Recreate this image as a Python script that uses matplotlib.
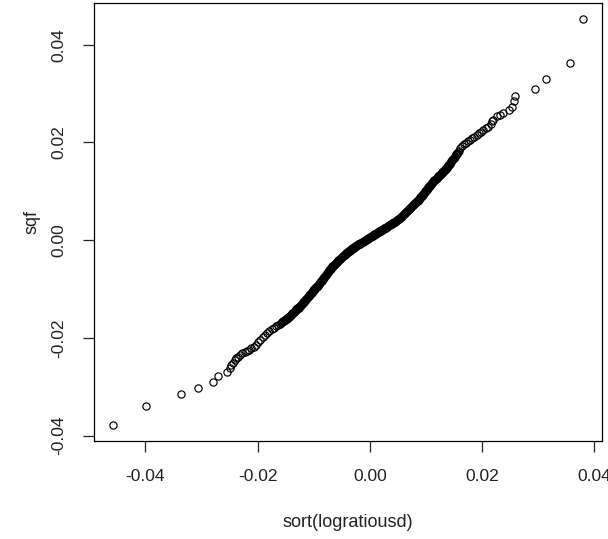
import matplotlib
matplotlib.use("Agg")
import matplotlib.pyplot as plt

plt.rcParams['font.family'] = ['Liberation Sans', 'DejaVu Sans']

# sorted sample (x) against quantiles (y)
lower_x = [-0.0458, -0.0399, -0.0337, -0.0306, -0.0280, -0.0270, -0.0254,
           -0.0250, -0.0247, -0.0244, -0.0241, -0.0238, -0.0235, -0.0231,
           -0.0227, -0.0223, -0.0219, -0.0215, -0.0211, -0.0207, -0.0203,
           -0.0199, -0.0195, -0.0191, -0.0187, -0.0183, -0.0179, -0.0175,
           -0.0171, -0.0167, -0.0164, -0.0161]
lower_y = [-0.0378, -0.0340, -0.0316, -0.0302, -0.0290, -0.0278, -0.0270,
           -0.0262, -0.0256, -0.0251, -0.0246, -0.0242, -0.0239, -0.0235,
           -0.0232, -0.0229, -0.0227, -0.0224, -0.0221, -0.0218, -0.0214,
           -0.0209, -0.0204, -0.0199, -0.0195, -0.0190, -0.0186, -0.0182,
           -0.0179, -0.0176, -0.0173, -0.0171]

mid_x = [-0.0158, -0.0156, -0.0154, -0.0152, -0.0150, -0.0148, -0.0146, -0.0144,
         -0.0142, -0.0140, -0.0138, -0.0136, -0.0134, -0.0132, -0.0130, -0.0128,
         -0.0126, -0.0124, -0.0122, -0.0120, -0.0118, -0.0116, -0.0114, -0.0112,
         -0.0110, -0.0108, -0.0106, -0.0104, -0.0102, -0.0100, -0.0098, -0.0096,
         -0.0094, -0.0092, -0.0090, -0.0088, -0.0086, -0.0084, -0.0082, -0.0080,
         -0.0078, -0.0076, -0.0074, -0.0072, -0.0070, -0.0068, -0.0066, -0.0064,
         -0.0062, -0.0060, -0.0058, -0.0056, -0.0054, -0.0052, -0.0050, -0.0048,
         -0.0046, -0.0044, -0.0042, -0.0040, -0.0038, -0.0036, -0.0034, -0.0032,
         -0.0030, -0.0028, -0.0026, -0.0024, -0.0022, -0.0020, -0.0018, -0.0016,
         -0.0014, -0.0012, -0.0010, -0.0008, -0.0006, -0.0004, -0.0002, 0.0000,
         0.0002, 0.0004, 0.0006, 0.0008, 0.0010, 0.0012, 0.0014, 0.0016,
         0.0018, 0.0020, 0.0022, 0.0024, 0.0026, 0.0028, 0.0030, 0.0032,
         0.0034, 0.0036, 0.0038, 0.0040, 0.0042, 0.0044, 0.0046, 0.0048,
         0.0050, 0.0052, 0.0054, 0.0056, 0.0058, 0.0060, 0.0062, 0.0064,
         0.0066, 0.0068, 0.0070, 0.0072, 0.0074, 0.0076, 0.0078, 0.0080,
         0.0082, 0.0084, 0.0086, 0.0088, 0.0090, 0.0092, 0.0094, 0.0096,
         0.0098, 0.0100, 0.0102, 0.0104, 0.0106, 0.0108, 0.0110, 0.0112,
         0.0114, 0.0116, 0.0118, 0.0120, 0.0122, 0.0124, 0.0126, 0.0128,
         0.0130, 0.0132, 0.0134, 0.0136, 0.0138, 0.0140, 0.0142, 0.0144,
         0.0146, 0.0148, 0.0150, 0.0152, 0.0154, 0.0156, 0.0158]
mid_y = [-0.0169, -0.0167, -0.0166, -0.0164, -0.0162, -0.0161, -0.0159, -0.0157,
         -0.0155, -0.0153, -0.0150, -0.0148, -0.0146, -0.0144, -0.0141, -0.0139,
         -0.0137, -0.0134, -0.0132, -0.0129, -0.0126, -0.0124, -0.0121, -0.0119,
         -0.0116, -0.0113, -0.0111, -0.0108, -0.0105, -0.0102, -0.0100, -0.0097,
         -0.0094, -0.0092, -0.0089, -0.0086, -0.0083, -0.0080, -0.0077, -0.0074,
         -0.0071, -0.0068, -0.0065, -0.0062, -0.0059, -0.0056, -0.0053, -0.0051,
         -0.0048, -0.0046, -0.0044, -0.0041, -0.0039, -0.0037, -0.0035, -0.0033,
         -0.0031, -0.0029, -0.0027, -0.0025, -0.0023, -0.0022, -0.0020, -0.0018,
         -0.0017, -0.0015, -0.0013, -0.0012, -0.0010, -0.0009, -0.0007, -0.0006,
         -0.0004, -0.0003, -0.0001, 0.0000, 0.0002, 0.0003, 0.0004, 0.0006,
         0.0007, 0.0009, 0.0010, 0.0012, 0.0013, 0.0014, 0.0016, 0.0017,
         0.0019, 0.0020, 0.0021, 0.0023, 0.0024, 0.0025, 0.0027, 0.0028,
         0.0030, 0.0031, 0.0033, 0.0034, 0.0036, 0.0038, 0.0039, 0.0041,
         0.0043, 0.0044, 0.0046, 0.0048, 0.0050, 0.0053, 0.0055, 0.0057,
         0.0059, 0.0062, 0.0064, 0.0066, 0.0068, 0.0071, 0.0073, 0.0075,
         0.0077, 0.0080, 0.0082, 0.0085, 0.0088, 0.0091, 0.0093, 0.0096,
         0.0099, 0.0102, 0.0105, 0.0108, 0.0110, 0.0113, 0.0116, 0.0119,
         0.0122, 0.0124, 0.0126, 0.0128, 0.0131, 0.0133, 0.0135, 0.0138,
         0.0140, 0.0142, 0.0145, 0.0147, 0.0149, 0.0153, 0.0156, 0.0159,
         0.0163, 0.0166, 0.0169, 0.0172, 0.0176, 0.0179, 0.0183]

# the dense band holds roughly twice as many points again
mid2_x = [-0.0157, -0.0155, -0.0153, -0.0151, -0.0149, -0.0147, -0.0145, -0.0143,
          -0.0141, -0.0139, -0.0137, -0.0135, -0.0133, -0.0131, -0.0129, -0.0127,
          -0.0125, -0.0123, -0.0121, -0.0119, -0.0117, -0.0115, -0.0113, -0.0111,
          -0.0109, -0.0107, -0.0105, -0.0103, -0.0101, -0.0099, -0.0097, -0.0095,
          -0.0093, -0.0091, -0.0089, -0.0087, -0.0085, -0.0083, -0.0081, -0.0079,
          -0.0077, -0.0075, -0.0073, -0.0071, -0.0069, -0.0067, -0.0065, -0.0063,
          -0.0061, -0.0059, -0.0057, -0.0055, -0.0053, -0.0051, -0.0049, -0.0047,
          -0.0045, -0.0043, -0.0041, -0.0039, -0.0037, -0.0035, -0.0033, -0.0031,
          -0.0029, -0.0027, -0.0025, -0.0023, -0.0021, -0.0019, -0.0017, -0.0015,
          -0.0013, -0.0011, -0.0009, -0.0007, -0.0005, -0.0003, -0.0001, 0.0001,
          0.0003, 0.0005, 0.0007, 0.0009, 0.0011, 0.0013, 0.0015, 0.0017,
          0.0019, 0.0021, 0.0023, 0.0025, 0.0027, 0.0029, 0.0031, 0.0033,
          0.0035, 0.0037, 0.0039, 0.0041, 0.0043, 0.0045, 0.0047, 0.0049,
          0.0051, 0.0053, 0.0055, 0.0057, 0.0059, 0.0061, 0.0063, 0.0065,
          0.0067, 0.0069, 0.0071, 0.0073, 0.0075, 0.0077, 0.0079, 0.0081,
          0.0083, 0.0085, 0.0087, 0.0089, 0.0091, 0.0093, 0.0095, 0.0097,
          0.0099, 0.0101, 0.0103, 0.0105, 0.0107, 0.0109, 0.0111, 0.0113,
          0.0115, 0.0117, 0.0119, 0.0121, 0.0123, 0.0125, 0.0127, 0.0129,
          0.0131, 0.0133, 0.0135, 0.0137, 0.0139, 0.0141, 0.0143, 0.0145,
          0.0147, 0.0149, 0.0151, 0.0153, 0.0155, 0.0157]
mid2_y = [-0.0168, -0.0166, -0.0165, -0.0163, -0.0161, -0.0160, -0.0158, -0.0156,
          -0.0154, -0.0151, -0.0149, -0.0147, -0.0145, -0.0142, -0.0140, -0.0138,
          -0.0135, -0.0133, -0.0130, -0.0127, -0.0125, -0.0122, -0.0120, -0.0117,
          -0.0114, -0.0112, -0.0109, -0.0106, -0.0103, -0.0101, -0.0098, -0.0095,
          -0.0093, -0.0090, -0.0087, -0.0084, -0.0081, -0.0078, -0.0075, -0.0072,
          -0.0069, -0.0066, -0.0063, -0.0060, -0.0057, -0.0054, -0.0052, -0.0049,
          -0.0047, -0.0045, -0.0042, -0.0040, -0.0038, -0.0036, -0.0034, -0.0032,
          -0.0030, -0.0028, -0.0026, -0.0024, -0.0022, -0.0021, -0.0019, -0.0017,
          -0.0016, -0.0014, -0.0012, -0.0011, -0.0009, -0.0008, -0.0006, -0.0005,
          -0.0003, -0.0002, -0.0001, 0.0001, 0.0002, 0.0004, 0.0005, 0.0006,
          0.0008, 0.0009, 0.0011, 0.0012, 0.0013, 0.0015, 0.0016, 0.0018,
          0.0019, 0.0020, 0.0022, 0.0023, 0.0024, 0.0026, 0.0027, 0.0029,
          0.0030, 0.0032, 0.0033, 0.0035, 0.0037, 0.0038, 0.0040, 0.0042,
          0.0043, 0.0045, 0.0047, 0.0049, 0.0051, 0.0054, 0.0056, 0.0058,
          0.0060, 0.0063, 0.0065, 0.0067, 0.0069, 0.0072, 0.0074, 0.0076,
          0.0078, 0.0081, 0.0083, 0.0086, 0.0089, 0.0092, 0.0094, 0.0097,
          0.0100, 0.0103, 0.0106, 0.0109, 0.0111, 0.0114, 0.0117, 0.0120,
          0.0123, 0.0125, 0.0127, 0.0129, 0.0132, 0.0134, 0.0136, 0.0139,
          0.0141, 0.0143, 0.0146, 0.0148, 0.0151, 0.0154, 0.0157, 0.0161,
          0.0164, 0.0167, 0.0170, 0.0174, 0.0177, 0.0181]

upper_x = [0.0161, 0.0164, 0.0167, 0.0171, 0.0175, 0.0178, 0.0182, 0.0186,
           0.0190, 0.0194, 0.0198, 0.0202, 0.0206, 0.0211, 0.0215, 0.0218,
           0.0220, 0.0226, 0.0232, 0.0238, 0.0247, 0.0253, 0.0256, 0.0259,
           0.0294, 0.0313, 0.0357, 0.0380]
upper_y = [0.0188, 0.0193, 0.0197, 0.0199, 0.0202, 0.0205, 0.0208, 0.0211,
           0.0215, 0.0219, 0.0222, 0.0226, 0.0229, 0.0232, 0.0238, 0.0243,
           0.0246, 0.0253, 0.0257, 0.0260, 0.0267, 0.0273, 0.0284, 0.0295,
           0.0309, 0.0330, 0.0362, 0.0452]

logratiousd_sorted = lower_x + mid_x + mid2_x + upper_x
sqf = lower_y + mid_y + mid2_y + upper_y

ticks = [-0.04, -0.02, 0.00, 0.02, 0.04]
tick_labels = ["-0.04", "-0.02", "0.00", "0.02", "0.04"]

fig = plt.figure(figsize=(6.08, 5.39), dpi=100)
ax = fig.add_axes([0.1546, 0.1818, 0.8355, 0.8126])

ax.plot(logratiousd_sorted, sqf, linestyle="none", marker="o", markersize=5.2,
        markerfacecolor="none", markeredgecolor="black", markeredgewidth=0.85)

# R style 4% padding around the data range
xmin, xmax = min(logratiousd_sorted), max(logratiousd_sorted)
ymin, ymax = min(sqf), max(sqf)
xr, yr = xmax - xmin, ymax - ymin
ax.set_xlim(xmin - 0.04 * xr, xmax + 0.04 * xr)
ax.set_ylim(ymin - 0.04 * yr, ymax + 0.04 * yr)

ax.set_xticks(ticks)
ax.set_xticklabels(tick_labels)
ax.set_yticks(ticks)
ax.set_yticklabels(tick_labels, rotation=90, va="center")

for s in ax.spines.values():
    s.set_linewidth(0.9)
    s.set_color("black")
ax.tick_params(direction="out", length=8, width=0.9, labelsize=12.5, pad=12,
               colors="#222222")

ax.set_xlabel("sort(logratiousd)", fontsize=13, labelpad=22, color="#222222")
ax.set_ylabel("sqf", fontsize=13, labelpad=8, color="#222222")

fig.savefig("out.png", dpi=100)
